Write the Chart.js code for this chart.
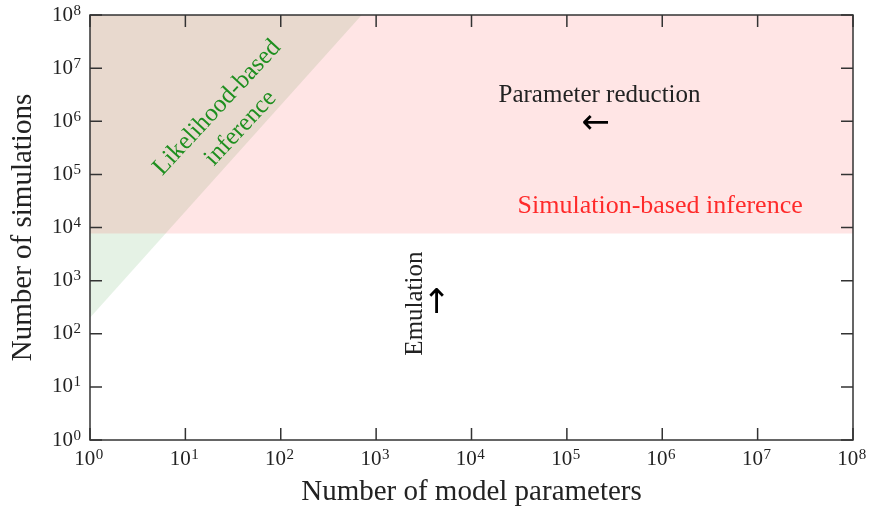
<!DOCTYPE html>
<html>
<head>
<meta charset="utf-8">
<script src="https://cdn.jsdelivr.net/npm/chart.js@4"></script>
<style>
  html, body { margin: 0; padding: 0; background: #fff; }
  #wrap { width: 870px; height: 507px; }
</style>
</head>
<body>
<div id="wrap"><canvas id="myChart" width="870" height="507"></canvas></div>
<script>
// Daten ----------------------------------------------------------------
const decades = [1, 1e1, 1e2, 1e3, 1e4, 1e5, 1e6, 1e7, 1e8]; // tick positions both axes

// Likelihood-based region: above the line from (1, 200) to (707, 1e8)
const likelihoodX = [1, 707];
const likelihoodY = [200, 1e8];
// Simulation-based region: everything above ~7.7e3 simulations
const sbiX = [1, 1e8];
const sbiY = [7700, 7700];

// annotations (data coordinates)
const notes = [
  { text: 'Parameter reduction', x: 2.2e5, y: 3.0e6, color: '#222', rot: 0, size: 25 },
  { text: '←', x: 2.0e5, y: 8.8e5, color: '#000', rot: 0, arrow: true },
  { text: 'Simulation-based inference', x: 9.5e5, y: 2.5e4, color: '#ff2a2a', rot: 0, size: 26 },
  { text: 'Emulation', x: 2.6e3, y: 370, color: '#222', rot: -90, size: 25 },
  { text: '↑', x: 4.3e3, y: 360, color: '#000', rot: 0, arrow: true },
  { text: 'Likelihood-based', x: 21.5, y: 1.8e6, color: '#1f8f1f', rot: -47, size: 25 },
  { text: 'inference', x: 38, y: 7.4e5, color: '#1f8f1f', rot: -47, size: 25 }
];
//-----------------------------------------------------------------------

const serif = "'Liberation Serif', 'DejaVu Serif', serif";
const tickSize = 21, expSize = 15;
const xPad = 7, yPad = 17;
const gap = '\u2002'; // Platz fuer den Exponenten auf der x-Achse

// Exponent an die "10"-Beschriftung haengen (Positionen kommen von den Skalen)
function drawExponents(ctx, x, y) {
  ctx.save();
  ctx.fillStyle = '#222';
  ctx.font = tickSize + 'px ' + serif;
  ctx.textBaseline = 'middle';
  const m = ctx.measureText('10');
  const w10 = m.width;
  const wFull = ctx.measureText('10' + gap).width;
  const asc10 = m.actualBoundingBoxAscent;
  ctx.font = expSize + 'px ' + serif;
  ctx.textBaseline = 'alphabetic';
  ctx.textAlign = 'left';
  const expAsc = ctx.measureText('8').actualBoundingBoxAscent;
  const lh = tickSize * 1.2;
  x.ticks.forEach(t => {
    const e = String(Math.round(Math.log10(t.value)));
    const cx = x.getPixelForValue(t.value);
    const cy = x.top + xPad + lh / 2;
    ctx.fillText(e, cx - wFull / 2 + w10 + 0.5, cy - asc10 - 2 + expAsc);
  });
  y.ticks.forEach(t => {
    const e = String(Math.round(Math.log10(t.value)));
    const cy = y.getPixelForValue(t.value);
    const rx = y.right - yPad;
    ctx.fillText(e, rx + 0.5, cy - asc10 - 2 + expAsc);
  });
  ctx.restore();
}

// Rahmen, Ticks nach innen und Beschriftungen
const decorPlugin = {
  id: 'decor',
  afterDatasetsDraw(chart) {
    const { ctx, chartArea: a, scales: { x, y } } = chart;
    ctx.save();
    ctx.strokeStyle = '#333';
    ctx.lineWidth = 1.5;
    ctx.strokeRect(a.left, a.top, a.right - a.left, a.bottom - a.top);
    const len = 12;
    ctx.beginPath();
    x.ticks.forEach(t => {
      const px = x.getPixelForValue(t.value);
      ctx.moveTo(px, a.bottom); ctx.lineTo(px, a.bottom - len);
      ctx.moveTo(px, a.top); ctx.lineTo(px, a.top + len);
    });
    y.ticks.forEach(t => {
      const py = y.getPixelForValue(t.value);
      ctx.moveTo(a.left, py); ctx.lineTo(a.left + len, py);
      ctx.moveTo(a.right, py); ctx.lineTo(a.right - len, py);
    });
    ctx.stroke();

    ctx.textAlign = 'center';
    ctx.textBaseline = 'middle';
    notes.forEach(n => {
      const px = x.getPixelForValue(n.x);
      const py = y.getPixelForValue(n.y);
      ctx.save();
      ctx.translate(px, py);
      ctx.rotate(n.rot * Math.PI / 180);
      ctx.fillStyle = n.color;
      ctx.font = n.arrow ? "34px 'DejaVu Sans'" : n.size + 'px ' + serif;
      ctx.fillText(n.text, 0, 0);
      ctx.restore();
    });
    ctx.restore();
    drawExponents(ctx, x, y);
  }
};

const tickFont = { family: serif, size: tickSize };

const ctx = document.getElementById('myChart').getContext('2d');
const myChart = new Chart(ctx, {
  type: 'scatter',
  data: {
    datasets: [
      {
        type: 'line',
        data: sbiX.map((v, i) => ({ x: v, y: sbiY[i] })),
        borderWidth: 0,
        pointRadius: 0,
        backgroundColor: 'rgba(255, 0, 0, 0.1)',
        fill: 'end'
      },
      {
        type: 'line',
        data: likelihoodX.map((v, i) => ({ x: v, y: likelihoodY[i] })),
        borderWidth: 0,
        pointRadius: 0,
        backgroundColor: 'rgba(0, 128, 0, 0.1)',
        fill: 'end'
      }
    ]
  },
  options: {
    responsive: false,
    animation: false,
    layout: { padding: { left: 0, top: 15, right: 17, bottom: 0 } },
    scales: {
      x: {
        type: 'logarithmic',
        min: 1,
        max: 1e8,
        afterBuildTicks: s => { s.ticks = decades.map(v => ({ value: v })); },
        afterFit: s => { s.height = 67; s.paddingLeft = 0; s.paddingRight = 0; },
        grid: { display: false, drawTicks: false },
        border: { display: false },
        ticks: {
          callback: () => '10' + gap,
          autoSkip: false,
          maxRotation: 0,
          padding: xPad,
          color: '#222',
          font: tickFont
        },
        title: {
          display: true,
          text: 'Number of model parameters',
          color: '#222',
          padding: 0,
          font: { family: serif, size: 29, lineHeight: 1.0 }
        }
      },
      y: {
        type: 'logarithmic',
        min: 1,
        max: 1e8,
        afterBuildTicks: s => { s.ticks = decades.map(v => ({ value: v })); },
        afterFit: s => { s.width = 90; s.paddingTop = 0; s.paddingBottom = 0; },
        grid: { display: false, drawTicks: false },
        border: { display: false },
        ticks: {
          callback: () => '10',
          autoSkip: false,
          padding: yPad,
          color: '#222',
          font: tickFont
        },
        title: {
          display: true,
          text: 'Number of simulations',
          color: '#222',
          padding: { top: 9, bottom: 0 },
          font: { family: serif, size: 29, lineHeight: 1.0 }
        }
      }
    },
    plugins: {
      legend: { display: false },
      tooltip: { enabled: false }
    }
  },
  plugins: [decorPlugin]
});
</script>
</body>
</html>
